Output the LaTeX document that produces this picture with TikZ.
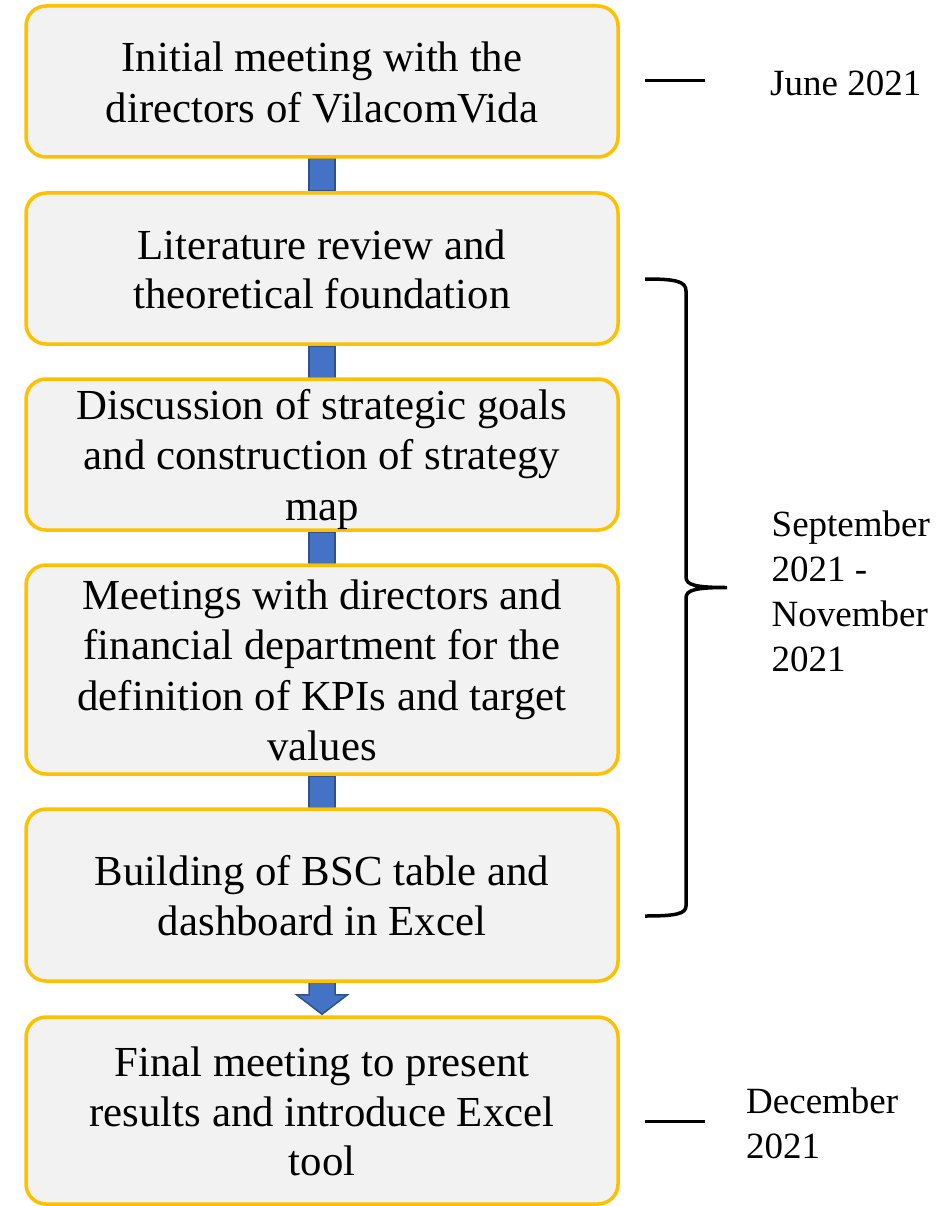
\documentclass[tikz,border=0pt]{standalone}
\usepackage{fontspec}
\setmainfont{Liberation Serif}
\definecolor{boxfill}{HTML}{F2F2F2}
\definecolor{boxline}{HTML}{FFC000}
\definecolor{arrfill}{HTML}{4472C4}
\definecolor{arrline}{HTML}{2F528F}
\newcommand{\bst}{\rule[-9pt]{0pt}{49pt}}
\newcommand{\sst}{\rule[-10pt]{0pt}{45pt}}
\pgfdeclarelayer{bg}
\pgfsetlayers{bg,main}
\begin{document}
\begin{tikzpicture}[x=1pt,y=-1pt,
  box/.style={draw=boxline, fill=boxfill, line width=3.5pt, rounded corners=20pt, minimum width=592pt, inner sep=0pt},
  btext/.style={font=\fontsize{42.8}{49}\selectfont, align=center, inner sep=0pt},
  rtext/.style={font=\fontsize{37}{45}\selectfont, align=left, inner sep=0pt, anchor=north west},
  conn/.style={fill=arrfill, draw=arrline, line width=1.5pt},
  tick/.style={line width=3pt},
  bracestyle/.style={line width=3.5pt}]
\path[use as bounding box] (0,0) rectangle (942,1206);

% boxes
\node[box, minimum height=151pt] (b1) at (322,81.5) {};
\node[box, minimum height=151pt] (b2) at (322,268.5) {};
\node[box, minimum height=151pt] (b3) at (322,454.5) {};
\node[box, minimum height=209pt] (b4) at (322,669.5) {};
\node[box, minimum height=172pt] (b5) at (322,895) {};
\node[box, minimum height=187pt] (b6) at (322,1110.5) {};

% connectors (behind boxes)
\begin{pgfonlayer}{bg}
\draw[conn] ([xshift=-13pt]b1.south) rectangle ([xshift=13pt]b2.north);
\draw[conn] ([xshift=-13pt]b2.south) rectangle ([xshift=13pt]b3.north);
\draw[conn] ([xshift=-13pt]b3.south) rectangle ([xshift=13pt]b4.north);
\draw[conn] ([xshift=-13pt]b4.south) rectangle ([xshift=13pt]b5.north);
\draw[conn] ([xshift=-13pt,yshift=4pt]b5.south) -- ([xshift=-13pt,yshift=-12pt]b5.south)
  -- ([xshift=-25.5pt,yshift=-12pt]b5.south) -- ([yshift=1pt]b6.north)
  -- ([xshift=25.5pt,yshift=-12pt]b5.south) -- ([xshift=13pt,yshift=-12pt]b5.south)
  -- ([xshift=13pt,yshift=4pt]b5.south) -- cycle;
\end{pgfonlayer}

% box texts
\node[btext] (t1) at (b1.center) {\bst Initial meeting with the\\ \bst directors of VilacomVida};
\node[btext] (t2) at (b2.center) {\bst Literature review and\\ \bst theoretical foundation};
\node[btext] (t3) at (b3.center) {\bst Discussion of strategic goals\\ \bst and construction of strategy\\ \bst map};
\node[btext] (t4) at (b4.center) {\bst Meetings with directors and\\ \bst financial department for the\\ \bst definition of KPIs and target\\ \bst values};
\node[btext] (t5) at (b5.center) {\bst Building of BSC table and\\ \bst dashboard in Excel};
\node[btext] (t6) at (b6.center) {\bst Final meeting to present\\ \bst results and introduce Excel\\ \bst tool};

% right side labels
\coordinate (d1a) at (645,81);
\coordinate (d1b) at (705,81);
\draw[tick] (d1a) -- (d1b);
\node[rtext] (r1) at (770,60) {\sst June 2021};

\draw[bracestyle] (645,279) .. controls (675,279) and (686,281) .. (686,291)
  -- (686,577) .. controls (686,585) and (695,587.5) .. (727,587.5)
  .. controls (695,587.5) and (686,590) .. (686,598)
  -- (686,906) .. controls (686,914) and (675,916) .. (645,916);
\node[rtext] (r2) at (771.5,501) {\sst September\\ \sst 2021 -\\ \sst November\\ \sst 2021};

\coordinate (d2a) at (645,1121);
\coordinate (d2b) at (705,1121);
\draw[tick] (d2a) -- (d2b);
\node[rtext] (r3) at (746,1078) {\sst December\\ \sst 2021};
\end{tikzpicture}
\end{document}
